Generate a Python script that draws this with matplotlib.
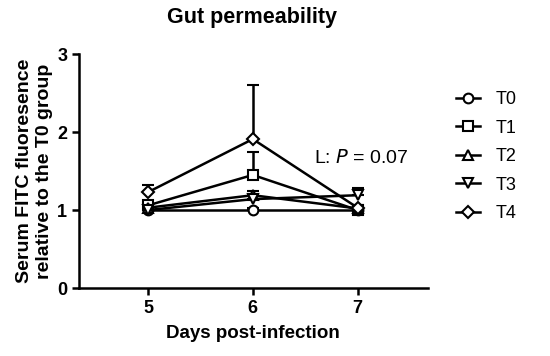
import numpy as np
import matplotlib
matplotlib.use("Agg")
import matplotlib.pyplot as plt
from matplotlib.lines import Line2D

plt.rcParams['font.family'] = ['Liberation Sans', 'DejaVu Sans']

days = [5, 6, 7]
groups = ['T0', 'T1', 'T2', 'T3', 'T4']
markers = ['o', 's', '^', 'v', 'D']

# means and upper SEM
means = {
    'T0': [1.00, 1.00, 1.00],
    'T1': [1.06, 1.45, 1.00],
    'T2': [1.03, 1.19, 1.02],
    'T3': [1.00, 1.14, 1.19],
    'T4': [1.23, 1.91, 1.03],
}
errs = {
    'T0': [0.03, 0.03, 0.03],
    'T1': [0.05, 0.29, 0.03],
    'T2': [0.04, 0.05, 0.03],
    'T3': [0.03, 0.05, 0.09],
    'T4': [0.09, 0.69, 0.04],
}

fig = plt.figure(figsize=(5.5, 3.56), dpi=100)
ax = fig.add_axes([0.1436, 0.191, 0.634, 0.657])

handles = []
for g, m in zip(groups, markers):
    ms = 6 if m == 'D' else 7
    ax.errorbar(days, means[g], yerr=[np.zeros(3), errs[g]], color='black',
                lw=1.8, marker=m, ms=ms, mfc='white', mec='black', mew=1.5,
                capsize=4, capthick=1.8, elinewidth=1.8)
    handles.append(Line2D([], [], color='black', lw=1.8, marker=m, ms=ms,
                          mfc='white', mec='black', mew=1.5, label=g))

ax.set_xlim(4.34, 7.67)
ax.set_ylim(0, 3)
ax.set_xticks(days)
ax.set_yticks([0, 1, 2, 3])
for s in ['top', 'right']:
    ax.spines[s].set_visible(False)
for s in ['left', 'bottom']:
    ax.spines[s].set_linewidth(1.8)
ax.tick_params(width=1.8, length=5, labelsize=13)
for lab in ax.get_xticklabels() + ax.get_yticklabels():
    lab.set_fontweight('bold')

ax.set_xlabel('Days post-infection', fontsize=13.5, fontweight='bold', labelpad=6)
ax.set_ylabel('Serum FITC fluoresence\nrelative to the T0 group', fontsize=14,
              fontweight='bold', labelpad=3)
fig.text(0.458, 0.952, 'Gut permeability', fontsize=15.5, fontweight='bold',
         ha='center', va='center')

ax.text(6.58, 1.67, 'L: $\\it{P}$ = 0.07', fontsize=14, va='center')

fig.legend(handles=handles, loc='upper left', bbox_to_anchor=(0.80, 0.79),
           frameon=False, fontsize=13, handlelength=1.3, labelspacing=0.64,
           handletextpad=0.9)

fig.savefig('out.png', dpi=100)
